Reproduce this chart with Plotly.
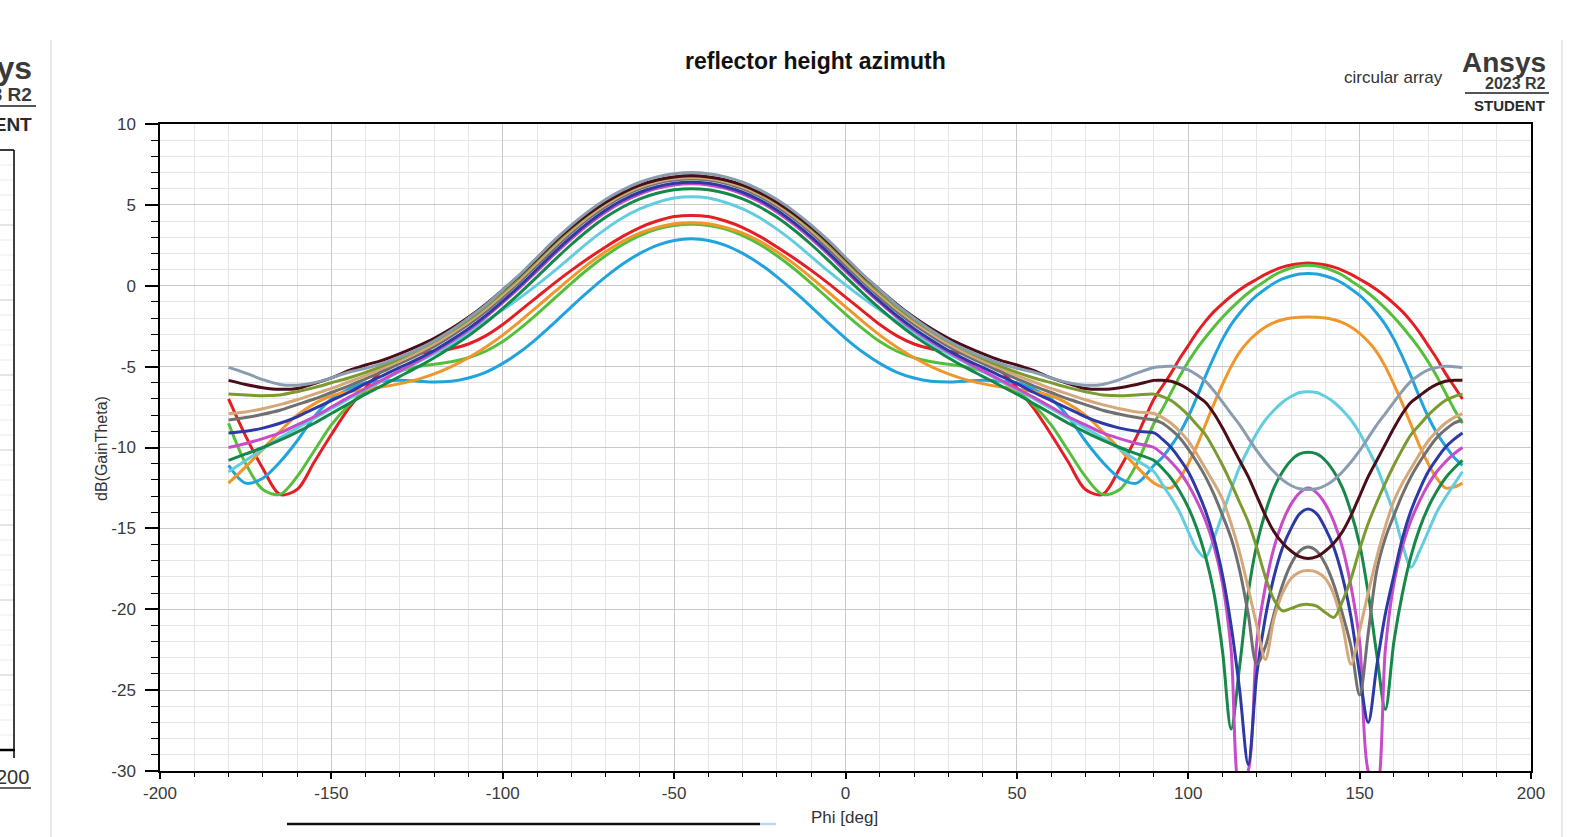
import plotly.graph_objects as go

# ---------------- data ----------------
phi = [-180, -175, -170, -165, -160, -155, -150, -145, -140, -135, -130, -125, -120, -115,
       -110, -105, -100, -95, -90, -85, -80, -75, -70, -65, -60, -55, -50, -45, -40, -35,
       -30, -25, -20, -15, -10, -5, 0, 5, 10, 15, 20, 25, 30, 35, 40, 45, 50, 55, 60, 65,
       70, 75, 80, 85, 90, 92.5, 95, 97.5, 100, 102.5, 105, 107.5, 110, 112.5, 115, 117.5,
       120, 122.5, 125, 127.5, 130, 132.5, 135, 137.5, 140, 142.5, 145, 147.5, 150, 152.5,
       155, 157.5, 160, 162.5, 165, 167.5, 170, 172.5, 175, 177.5, 180]

gain_red = [-7.0, -9.3, -11.3, -12.9, -12.6, -10.9, -9.2, -7.6, -6.3, -5.2, -4.5, -4.2, -4.05, -3.9, -3.6, -3.1, -2.4, -1.55, -0.7, 0.15, 0.95, 1.7, 2.4, 3.05, 3.6, 4.0, 4.28,
            4.35, 4.28, 4.0, 3.6, 3.05, 2.4, 1.7, 0.95, 0.15, -0.7, -1.55, -2.4, -3.1, -3.6, -3.9, -4.05, -4.2, -4.5, -5.2, -6.3, -7.6, -9.2, -10.9, -12.6, -12.9, -11.3, -9.3, -7.0,
            -6.2, -5.4, -4.5, -3.7, -2.9, -2.2, -1.6, -1.1, -0.65, -0.25, 0.1, 0.4, 0.7, 0.95, 1.15, 1.28, 1.36, 1.4,
            1.36, 1.28, 1.15, 0.95, 0.7, 0.4, 0.1, -0.25, -0.65, -1.1, -1.6, -2.2, -2.9, -3.7, -4.5, -5.4, -6.2, -7.0]

gain_green = [-8.5, -11.0, -12.6, -12.9, -11.8, -10.2, -8.6, -7.4, -6.5, -5.85, -5.3, -5.0, -4.85, -4.7, -4.45, -4.05, -3.45, -2.65, -1.75, -0.8, 0.15, 1.05, 1.85, 2.55, 3.1, 3.5, 3.72,
              3.8, 3.72, 3.5, 3.1, 2.55, 1.85, 1.05, 0.15, -0.8, -1.75, -2.65, -3.45, -4.05, -4.45, -4.7, -4.85, -5.0, -5.3, -5.85, -6.5, -7.4, -8.6, -10.2, -11.8, -12.9, -12.6, -11.0, -8.5,
              -7.6, -6.6, -5.6, -4.7, -3.9, -3.2, -2.55, -1.95, -1.4, -0.9, -0.45, -0.05, 0.3, 0.65, 0.9, 1.1, 1.22, 1.27,
              1.22, 1.1, 0.9, 0.65, 0.3, -0.05, -0.45, -0.9, -1.4, -1.95, -2.55, -3.2, -3.9, -4.7, -5.6, -6.6, -7.6, -8.5]

gain_lightblue = [-11.1, -12.2, -11.9, -10.9, -9.6, -8.1, -7.0, -6.4, -6.0, -5.9, -5.85, -5.9, -5.95, -5.9, -5.7, -5.35, -4.8, -4.1, -3.25, -2.3, -1.3, -0.35, 0.55, 1.35, 2.0, 2.5, 2.8,
                  2.9, 2.8, 2.5, 2.0, 1.35, 0.55, -0.35, -1.3, -2.3, -3.25, -4.1, -4.8, -5.35, -5.7, -5.9, -5.95, -5.9, -5.85, -5.9, -6.0, -6.4, -7.0, -8.1, -9.6, -10.9, -11.9, -12.2, -11.1,
                  -10.6, -9.9, -9.1, -8.1, -6.9, -5.6, -4.4, -3.3, -2.4, -1.7, -1.1, -0.6, -0.2, 0.15, 0.42, 0.6, 0.72, 0.75,
                  0.72, 0.6, 0.42, 0.15, -0.2, -0.6, -1.1, -1.7, -2.4, -3.3, -4.4, -5.6, -6.9, -8.1, -9.1, -9.9, -10.6, -11.1]

gain_orange = [-12.2, -11.2, -10.1, -9.0, -8.0, -7.3, -6.8, -6.55, -6.4, -6.25, -6.05, -5.8, -5.45, -5.0, -4.45, -3.8, -3.05, -2.2, -1.3, -0.4, 0.5, 1.35, 2.1, 2.75, 3.25, 3.6, 3.83,
               3.9, 3.83, 3.6, 3.25, 2.75, 2.1, 1.35, 0.5, -0.4, -1.3, -2.2, -3.05, -3.8, -4.45, -5.0, -5.45, -5.8, -6.05, -6.25, -6.4, -6.55, -6.8, -7.3, -8.0, -9.0, -10.1, -11.2, -12.2,
               -12.45, -12.5, -11.9, -11.0, -9.9, -8.6, -7.3, -6.1, -5.0, -4.1, -3.45, -2.95, -2.55, -2.28, -2.1, -2.0, -1.95, -1.93,
               -1.95, -2.0, -2.1, -2.28, -2.55, -2.95, -3.45, -4.1, -5.0, -6.1, -7.3, -8.6, -9.9, -11.0, -11.9, -12.5, -12.45, -12.2]

gain_cyan = [-11.5, -10.8, -10.1, -9.4, -8.8, -8.2, -7.6, -7.0, -6.4, -5.85, -5.3, -4.75, -4.2, -3.6, -2.9, -2.2, -1.5, -0.75, 0.05, 0.9, 1.8, 2.7, 3.5, 4.2, 4.75, 5.15, 5.42,
             5.5, 5.42, 5.15, 4.75, 4.2, 3.5, 2.7, 1.8, 0.9, 0.05, -0.75, -1.5, -2.2, -2.9, -3.6, -4.2, -4.75, -5.3, -5.85, -6.4, -7.0, -7.6, -8.2, -8.8, -9.4, -10.1, -10.8, -11.5,
             -12.3, -13.1, -14.0, -15.2, -16.3, -16.8, -15.6, -14.1, -12.6, -11.2, -10.1, -9.1, -8.3, -7.7, -7.2, -6.85, -6.6, -6.55,
             -6.6, -6.85, -7.2, -7.7, -8.3, -9.1, -10.1, -11.2, -12.6, -14.1, -16.0, -17.4, -16.4, -15.2, -14.0, -13.1, -12.3, -11.5]

gain_darkgreen = [-10.8, -10.4, -10.0, -9.55, -9.05, -8.5, -7.9, -7.3, -6.7, -6.15, -5.6, -5.05, -4.45, -3.8, -3.1, -2.3, -1.4, -0.45, 0.55, 1.57, 2.55, 3.45, 4.23, 4.87, 5.37, 5.72, 5.93,
                  6.0, 5.93, 5.72, 5.37, 4.87, 4.23, 3.45, 2.55, 1.57, 0.55, -0.45, -1.4, -2.3, -3.1, -3.8, -4.45, -5.05, -5.6, -6.15, -6.7, -7.3, -7.9, -8.5, -9.05, -9.55, -10.0, -10.4, -10.8,
                  -11.3, -11.9, -12.7, -13.7, -15.0, -16.7, -19.0, -22.6, -27.4, -23.5, -19.0, -16.0, -14.0, -12.5, -11.5, -10.8, -10.4, -10.3,
                  -10.4, -10.8, -11.5, -12.5, -14.0, -16.0, -19.0, -22.8, -26.2, -22.0, -19.0, -16.7, -15.0, -13.7, -12.7, -11.9, -11.3, -10.8]

gain_magenta = [-10.0, -9.75, -9.45, -9.1, -8.6, -8.1, -7.5, -6.9, -6.35, -5.8, -5.25, -4.7, -4.1, -3.45, -2.75, -1.95, -1.05, -0.1, 0.9, 1.93, 2.9, 3.78, 4.55, 5.18, 5.67, 6.02, 6.23,
                6.3, 6.23, 6.02, 5.67, 5.18, 4.55, 3.78, 2.9, 1.93, 0.9, -0.1, -1.05, -1.95, -2.75, -3.45, -4.1, -4.7, -5.25, -5.8, -6.35, -6.9, -7.5, -8.1, -8.6, -9.1, -9.45, -9.75, -10.0,
                -10.4, -10.9, -11.5, -12.3, -13.3, -14.5, -16.1, -18.4, -22.5, -31.0, -30.0, -22.0, -18.6, -16.2, -14.6, -13.5, -12.8, -12.5,
                -12.8, -13.5, -14.6, -16.2, -18.6, -22.0, -30.0, -31.0, -22.5, -18.4, -16.1, -14.5, -13.3, -12.3, -11.5, -10.9, -10.4, -10.0]

gain_darkblue = [-9.1, -9.0, -8.8, -8.5, -8.1, -7.6, -7.1, -6.6, -6.05, -5.55, -5.05, -4.55, -4.0, -3.35, -2.65, -1.85, -0.95, 0.0, 1.02, 2.05, 3.02, 3.9, 4.67, 5.3, 5.78, 6.12, 6.33,
                 6.4, 6.33, 6.12, 5.78, 5.3, 4.67, 3.9, 3.02, 2.05, 1.02, 0.0, -0.95, -1.85, -2.65, -3.35, -4.0, -4.55, -5.05, -5.55, -6.05, -6.6, -7.1, -7.6, -8.1, -8.5, -8.8, -9.0, -9.1,
                 -9.5, -10.0, -10.7, -11.5, -12.6, -13.9, -15.6, -17.9, -21.0, -25.0, -29.6, -24.0, -20.5, -18.0, -16.2, -15.0, -14.1, -13.8,
                 -14.1, -15.0, -16.2, -18.0, -20.5, -24.0, -27.0, -23.5, -20.3, -17.9, -15.6, -13.9, -12.6, -11.5, -10.7, -10.0, -9.5, -9.1]

gain_gray = [-8.3, -8.15, -7.95, -7.7, -7.35, -7.0, -6.6, -6.2, -5.75, -5.3, -4.8, -4.3, -3.75, -3.1, -2.4, -1.6, -0.7, 0.25, 1.27, 2.3, 3.28, 4.15, 4.9, 5.52, 6.0, 6.33, 6.53,
             6.6, 6.53, 6.33, 6.0, 5.52, 4.9, 4.15, 3.28, 2.3, 1.27, 0.25, -0.7, -1.6, -2.4, -3.1, -3.75, -4.3, -4.8, -5.3, -5.75, -6.2, -6.6, -7.0, -7.35, -7.7, -7.95, -8.15, -8.3,
             -8.5, -8.9, -9.4, -10.1, -10.9, -11.8, -12.9, -14.2, -15.6, -17.6, -20.3, -23.4, -22.3, -20.3, -18.5, -17.2, -16.4, -16.15,
             -16.4, -17.2, -18.5, -20.3, -22.3, -25.3, -21.5, -17.6, -15.6, -14.2, -12.9, -11.8, -10.9, -10.1, -9.4, -8.9, -8.5, -8.3]

gain_tan = [-7.9, -7.8, -7.6, -7.35, -7.05, -6.7, -6.35, -5.95, -5.55, -5.1, -4.65, -4.15, -3.6, -2.95, -2.25, -1.45, -0.55, 0.4, 1.43, 2.46, 3.42, 4.28, 5.02, 5.63, 6.1, 6.43, 6.63,
            6.7, 6.63, 6.43, 6.1, 5.63, 5.02, 4.28, 3.42, 2.46, 1.43, 0.4, -0.55, -1.45, -2.25, -2.95, -3.6, -4.15, -4.65, -5.1, -5.55, -5.95, -6.35, -6.7, -7.05, -7.35, -7.6, -7.8, -7.9,
            -8.15, -8.5, -9.0, -9.6, -10.4, -11.3, -12.2, -13.2, -14.7, -16.5, -18.7, -21.0, -23.1, -20.6, -19.0, -18.1, -17.7, -17.6,
            -17.7, -18.1, -19.1, -21.0, -23.4, -21.3, -19.0, -16.8, -14.9, -13.3, -12.2, -11.3, -10.4, -9.6, -9.0, -8.5, -8.15, -7.9]

gain_olive = [-6.7, -6.75, -6.8, -6.75, -6.55, -6.3, -6.0, -5.7, -5.35, -4.95, -4.5, -4.0, -3.45, -2.8, -2.1, -1.3, -0.4, 0.55, 1.58, 2.6, 3.55, 4.4, 5.13, 5.73, 6.2, 6.53, 6.73,
              6.8, 6.73, 6.53, 6.2, 5.73, 5.13, 4.4, 3.55, 2.6, 1.58, 0.55, -0.4, -1.3, -2.1, -2.8, -3.45, -4.0, -4.5, -4.95, -5.35, -5.7, -6.0, -6.3, -6.55, -6.75, -6.8, -6.75, -6.7,
              -6.85, -7.1, -7.5, -8.0, -8.6, -9.2, -10.1, -11.1, -12.2, -13.4, -14.6, -16.2, -18.0, -19.4, -20.1, -19.95, -19.75, -19.7,
              -19.8, -20.2, -20.5, -19.5, -18.1, -16.3, -14.7, -13.4, -12.2, -11.1, -10.1, -9.2, -8.6, -8.0, -7.5, -7.1, -6.85, -6.7]

gain_brown = [-5.85, -6.1, -6.3, -6.4, -6.35, -6.05, -5.7, -5.25, -4.9, -4.6, -4.2, -3.75, -3.25, -2.65, -1.95, -1.15, -0.25, 0.66, 1.68, 2.7, 3.62, 4.45, 5.17, 5.76, 6.22, 6.54, 6.73,
              6.8, 6.73, 6.54, 6.22, 5.76, 5.17, 4.45, 3.62, 2.7, 1.68, 0.66, -0.25, -1.15, -1.95, -2.65, -3.25, -3.75, -4.2, -4.6, -4.9, -5.25, -5.7, -6.05, -6.35, -6.4, -6.3, -6.1, -5.85,
              -5.85, -5.9, -6.1, -6.4, -6.8, -7.2, -7.9, -8.8, -9.8, -10.8, -11.8, -13.0, -14.2, -15.2, -15.9, -16.4, -16.75, -16.87,
              -16.75, -16.4, -15.9, -15.2, -14.2, -13.0, -11.8, -10.8, -9.8, -8.8, -7.9, -7.2, -6.8, -6.4, -6.1, -5.9, -5.85, -5.85]

gain_slate = [-5.05, -5.4, -5.8, -6.1, -6.15, -6.0, -5.7, -5.35, -5.1, -4.8, -4.4, -3.95, -3.4, -2.75, -2.0, -1.2, -0.25, 0.7, 1.75, 2.8, 3.75, 4.6, 5.33, 5.93, 6.4, 6.73, 6.93,
              7.0, 6.93, 6.73, 6.4, 5.93, 5.33, 4.6, 3.75, 2.8, 1.75, 0.7, -0.25, -1.2, -2.0, -2.75, -3.4, -3.95, -4.4, -4.8, -5.1, -5.35, -5.7, -6.0, -6.15, -6.1, -5.8, -5.4, -5.05,
              -5.0, -4.98, -5.05, -5.2, -5.5, -5.9, -6.5, -7.2, -7.9, -8.6, -9.4, -10.2, -10.9, -11.5, -12.0, -12.35, -12.55, -12.6,
              -12.55, -12.35, -12.0, -11.5, -10.9, -10.2, -9.4, -8.6, -7.9, -7.2, -6.5, -5.9, -5.5, -5.2, -5.05, -4.98, -5.0, -5.05]

x_ticks = [-200, -150, -100, -50, 0, 50, 100, 150, 200]
y_ticks = [-30, -25, -20, -15, -10, -5, 0, 5, 10]

series = [
    (gain_red, "#e31e24"),
    (gain_green, "#55bf3b"),
    (gain_lightblue, "#21a3de"),
    (gain_orange, "#f0962a"),
    (gain_cyan, "#63cde0"),
    (gain_darkgreen, "#16884a"),
    (gain_magenta, "#c84bc8"),
    (gain_darkblue, "#2d3aa5"),
    (gain_gray, "#707070"),
    (gain_tan, "#d4a87a"),
    (gain_olive, "#7b9a30"),
    (gain_brown, "#4b0d17"),
    (gain_slate, "#8a9db0"),
]

# ---------------- figure ----------------
W, H = 1590, 837
L, R, T, B = 160, 1531, 124, 771
FONT = "Liberation Sans, Arial, sans-serif"


def X(px):
    return (px - L) / (R - L)


def Y(py):
    return (B - py) / (B - T)


fig = go.Figure()
for vals, col in series:
    assert len(vals) == len(phi)
    fig.add_trace(go.Scatter(x=phi, y=vals, mode="lines",
                             line=dict(color=col, width=3, shape="spline", smoothing=0.9),
                             hoverinfo="skip", showlegend=False))

axis_common = dict(showline=True, linecolor="black", linewidth=1.5, mirror=True,
                   ticks="outside", tickcolor="black", tickwidth=1.5,
                   showgrid=True, gridcolor="#c9c9c9", gridwidth=1,
                   zeroline=False, automargin=False,
                   tickfont=dict(family=FONT, size=17, color="#3a3a3a"))

fig.update_xaxes(range=[-200, 200], tickmode="array", tickvals=x_ticks,
                 ticktext=[str(v) for v in x_ticks], ticklen=6, ticklabelstandoff=0,
                 minor=dict(dtick=10, ticklen=4, tickcolor="black", tickwidth=1.2,
                            showgrid=True, gridcolor="#e6e6e6", gridwidth=1),
                 **axis_common)
fig.update_yaxes(range=[-30, 10], tickmode="array", tickvals=y_ticks,
                 ticktext=[str(v) for v in y_ticks], ticklen=13, ticklabelstandoff=6,
                 minor=dict(dtick=1, ticklen=7, tickcolor="black", tickwidth=1.2,
                            showgrid=True, gridcolor="#e6e6e6", gridwidth=1),
                 **axis_common)

ann = []


def text(s, px, py, size, anchor="center", bold=False, color="#333333"):
    ann.append(dict(text=f"<b>{s}</b>" if bold else s, x=X(px), y=Y(py), xref="paper", yref="paper",
                    xanchor=anchor, yanchor="middle", showarrow=False,
                    font=dict(family=FONT, size=size, color=color)))


text("reflector height azimuth", 815, 61, 23, bold=True, color="#111111")
text("circular array", 1393, 78, 17, color="#333333")
text("Ansys", 1548, 62, 28, anchor="right", bold=True, color="#3a3a3a")
text("2023 R2", 1548, 84, 16, anchor="right", bold=True, color="#3a3a3a")
text("STUDENT", 1547, 105, 15, anchor="right", bold=True, color="#2a2a2a")
text("Phi [deg]", 844, 817, 17, color="#333333")
# left (clipped) neighbour window
text("Ansys", 34, 68, 32, anchor="right", bold=True, color="#3a3a3a")
text("2023 R2", 34, 94, 19, anchor="right", bold=True, color="#3a3a3a")
text("STUDENT", 34, 124, 19, anchor="right", bold=True, color="#2a2a2a")
text("200", 31, 777, 20, anchor="right", color="#333333")

ann.append(dict(text="dB(GainTheta)", x=X(101), y=Y(449), xref="paper", yref="paper",
                xanchor="center", yanchor="middle", showarrow=False, textangle=-90,
                font=dict(family=FONT, size=16, color="#333333")))

shapes = []


def line(x0, y0, x1, y1, color, width):
    shapes.append(dict(type="line", xref="paper", yref="paper", x0=X(x0), y0=Y(y0),
                       x1=X(x1), y1=Y(y1), line=dict(color=color, width=width)))


line(1465, 93, 1549, 93, "#555555", 2)          # logo underline
line(0, 106, 36, 106, "#555555", 2)             # left logo underline
line(51, 40, 51, 837, "#e3e3e3", 1.5)           # window separators
line(1562, 40, 1562, 837, "#e3e3e3", 1.5)
line(287, 824, 760, 824, "#111111", 2.5)        # bottom bar
line(760, 824, 776, 824, "#b9dcf2", 2.5)
# left neighbour plot frame
for k in range(41):
    yy = 150 + k * 15
    line(0, yy, 13, yy, "#cccccc" if k % 5 == 0 else "#ececec", 1)
line(0, 150, 14, 150, "black", 1.5)
line(14, 150, 14, 751, "black", 1.5)
line(0, 750, 15, 750, "black", 2.5)
line(14, 750, 14, 758, "black", 1.5)
line(0, 788, 31, 788, "#333333", 1.5)

fig.update_layout(template="none", width=W, height=H, autosize=False,
                  margin=dict(l=L, r=W - R, t=T, b=H - B, pad=0),
                  paper_bgcolor="white", plot_bgcolor="white",
                  showlegend=False, annotations=ann, shapes=shapes,
                  font=dict(family=FONT))

fig.write_html("out.html", config={"displayModeBar": False},
               post_script="document.body.style.margin='0px';document.body.style.overflow='hidden';")
